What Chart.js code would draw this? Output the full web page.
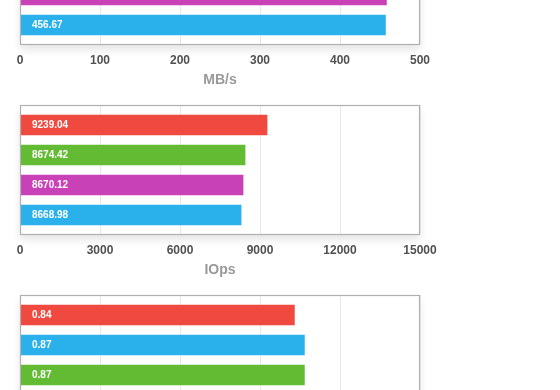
<!DOCTYPE html>
<html>
<head>
<meta charset="utf-8">
<title>Benchmark bars</title>
<script src="https://cdn.jsdelivr.net/npm/chart.js@4.4.0/dist/chart.umd.min.js"></script>
<style>
    html, body { margin: 0; padding: 0; background: #fff; overflow: hidden; }
    body { width: 560px; height: 390px; position: relative; font-family: "Liberation Sans", Arial, sans-serif; }
    .panel { position: absolute; left: 0; width: 560px; height: 190px; }
</style>
</head>
<body>
<div class="panel" style="top:-95px"><canvas id="chartMbps"></canvas></div>
<div class="panel" style="top:95px"><canvas id="chartIops"></canvas></div>
<div class="panel" style="top:285px"><canvas id="chartRatio"></canvas></div>

<script>
// colores de las series
const RED = '#f04a40';
const GREEN = '#63bb34';
const PINK = '#c841b6';
const BLUE = '#2ab0ea';

// MB/s (panel de arriba, solo se ven las dos ultimas barras)
const mbpsSlots = [2, 3];
const mbpsValues = [458.0, 456.8];
const mbpsLabels = ['', '456.67'];
const mbpsColors = [PINK, BLUE];
const mbpsTicks = [0, 100, 200, 300, 400, 500];

// IOps
const iopsSlots = [0, 1, 2, 3];
const iopsValues = [9265, 8440, 8365, 8290];
const iopsLabels = ['9239.04', '8674.42', '8670.12', '8668.98'];
const iopsColors = [RED, GREEN, PINK, BLUE];
const iopsTicks = [0, 3000, 6000, 9000, 12000, 15000];

// panel de abajo (cortado)
const ratioSlots = [0, 1, 2];
const ratioValues = [0.686, 0.711, 0.711];
const ratioLabels = ['0.84', '0.87', '0.87'];
const ratioColors = [RED, BLUE, GREEN];
const ratioTicks = [0, 0.2, 0.4, 0.6, 0.8, 1];

const panelDecor = {
    id: 'panelDecor',
    beforeDraw(chart) {
        const a = chart.chartArea;
        const ctx = chart.ctx;
        ctx.save();
        ctx.shadowColor = 'rgba(0,0,0,0.10)';
        ctx.shadowBlur = 8;
        ctx.shadowOffsetY = 6;
        ctx.fillStyle = '#fff';
        ctx.fillRect(a.left, a.top, a.right - a.left, a.bottom - a.top);
        ctx.restore();
    },
    afterDatasetsDraw(chart) {
        const ctx = chart.ctx;
        const ds = chart.data.datasets[0];
        const meta = chart.getDatasetMeta(0);
        ctx.save();
        ctx.font = 'bold 10px "Liberation Sans", Arial, sans-serif';
        ctx.fillStyle = '#fff';
        ctx.textBaseline = 'middle';
        ctx.textAlign = 'left';
        meta.data.forEach((bar, i) => {
            const txt = ds.valueLabels[i];
            if (txt) ctx.fillText(txt, bar.base + 11.5, bar.y + 0.5);
        });
        ctx.restore();
    },
    afterDraw(chart) {
        const a = chart.chartArea;
        const ctx = chart.ctx;
        ctx.save();
        ctx.strokeStyle = '#b0b0b0';
        ctx.lineWidth = 1.2;
        ctx.strokeRect(a.left + 0.5, a.top + 0.5, a.right - a.left - 1, a.bottom - a.top);
        ctx.restore();
    }
};

function makePanel(id, slots, values, labels, colors, ticks, title) {
    const points = slots.map((s, i) => ({ x: values[i], y: s }));
    return new Chart(document.getElementById(id), {
        type: 'bar',
        data: {
            datasets: [{
                data: points,
                valueLabels: labels,
                backgroundColor: colors,
                borderWidth: 0,
                barThickness: 20
            }]
        },
        options: {
            indexAxis: 'y',
            responsive: true,
            maintainAspectRatio: false,
            animation: false,
            layout: { padding: { top: 10, bottom: 6, left: 20, right: 140 } },
            plugins: { legend: { display: false }, tooltip: { enabled: false } },
            scales: {
                x: {
                    type: 'linear',
                    min: ticks[0],
                    max: ticks[ticks.length - 1],
                    afterBuildTicks: s => { s.ticks = ticks.map(v => ({ value: v })); },
                    afterFit: s => { s.height = 45; },
                    grid: { color: '#e8e8e8', lineWidth: 1, drawTicks: false },
                    border: { display: false },
                    ticks: {
                        maxRotation: 0,
                        autoSkip: false,
                        padding: 9,
                        color: '#505050',
                        font: { family: '"Liberation Sans", Arial, sans-serif', size: 12, weight: 'bold' },
                        callback: v => String(v)
                    },
                    title: {
                        display: !!title,
                        text: title,
                        color: '#999',
                        padding: 0,
                        font: { family: '"Liberation Sans", Arial, sans-serif', size: 14, weight: 'bold' }
                    }
                },
                y: {
                    type: 'linear',
                    reverse: true,
                    offset: false,
                    min: -0.667,
                    max: 3.633,
                    display: false
                }
            }
        },
        plugins: [panelDecor]
    });
}

makePanel('chartMbps', mbpsSlots, mbpsValues, mbpsLabels, mbpsColors, mbpsTicks, 'MB/s');
makePanel('chartIops', iopsSlots, iopsValues, iopsLabels, iopsColors, iopsTicks, 'IOps');
makePanel('chartRatio', ratioSlots, ratioValues, ratioLabels, ratioColors, ratioTicks, '');
</script>
</body>
</html>
